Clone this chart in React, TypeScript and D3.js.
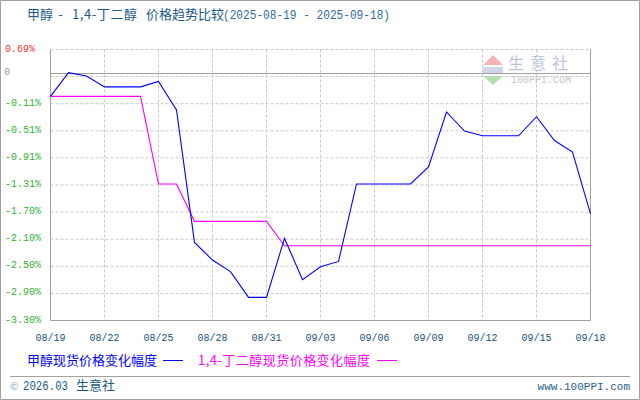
import React from 'react'
import * as d3 from 'd3'

// chart data (percent change vs. 08/19)
const days = d3.timeDay.range(new Date(2025, 7, 19), new Date(2025, 8, 19)).map(d3.timeFormat('%m/%d'))

const methanol = [
  0, 0.35, 0.3, 0.14, 0.14, 0.14, 0.22, -0.2, -2.15, -2.41, -2.58, -2.96, -2.96, -2.09, -2.7, -2.51,
  -2.43, -1.29, -1.29, -1.29, -1.29, -1.04, -0.23, -0.51, -0.58, -0.58, -0.58, -0.3, -0.65, -0.82, -1.73,
]
const bdo = [
  0, 0, 0, 0, 0, 0, -1.29, -1.29, -1.84, -1.84, -1.84, -1.84, -1.84, -2.2, -2.2, -2.2,
  -2.2, -2.2, -2.2, -2.2, -2.2, -2.2, -2.2, -2.2, -2.2, -2.2, -2.2, -2.2, -2.2, -2.2, -2.2,
]

const xTickLabels = ['08/19', '08/22', '08/25', '08/28', '08/31', '09/03', '09/06', '09/09', '09/12', '09/15', '09/18']
const yMax = 0.69
const yMin = -3.3
const yTickLabels = ['0.69%', '', '-0.11%', '-0.51%', '-0.91%', '-1.31%', '-1.70%', '-2.10%', '-2.50%', '-2.90%', '-3.30%']
// the source draws its "0" reference line here, not at the true zero
const zeroLineAt = 0.35

const seriesNames = ['甲醇现货价格变化幅度', '1,4-丁二醇现货价格变化幅度']
const seriesColors = ['#0000ff', '#ff00ff']

const W = 640
const H = 400
const left = 50.5
const right = 590.5
const top = 49.5
const bottom = 320.5

const cjk = '"Noto Sans CJK SC", "Noto Sans", sans-serif'
const mono = '"Liberation Mono", "DejaVu Sans Mono", monospace'

export default function App() {
  const x = d3.scalePoint<string>().domain(days).range([left, right])
  const y = d3.scaleLinear().domain([yMin, yMax]).range([bottom, top])
  const yTicks = yTickLabels.map((_, k) => yMax - (k * (yMax - yMin)) / (yTickLabels.length - 1))

  const line = d3
    .line<number>()
    .x((_, i) => x(days[i]) as number)
    .y((d) => y(d))

  return (
    <svg
      width={W}
      height={H}
      style={{ position: 'absolute', left: 0, top: 0, background: '#fff' }}
      fontFamily={cjk}
    >
      <rect x={0.5} y={0.5} width={W - 1} height={H - 1} fill="#fff" stroke="#a0a0a0" />

      {/* title */}
      <text y={19} fontSize={13} fill="#1d5a8a">
        <tspan x={27}>甲醇</tspan>
        <tspan x={57} fontFamily={mono} fontSize={12}>-</tspan>
        <tspan x={72} textLength={65} lengthAdjust="spacing">1,4-丁二醇</tspan>
        <tspan x={146}>价格趋势比较</tspan>
        <tspan x={223} fontFamily={mono} fontSize={12} fill="#2f6a9c" textLength={167} lengthAdjust="spacingAndGlyphs">
          (2025-08-19 - 2025-09-18)
        </tspan>
      </text>

      {/* watermark */}
      <g opacity={0.6}>
        <polygon points="483,65 493,55 503,65" fill="#f08080" />
        <rect x={483} y={67} width={20} height={6} fill="#8090c0" opacity={0.6} />
        <polygon points="483,76 493,85 503,76" fill="#80d080" />
        <text x={541} y={69} fontSize={16} fill="#8fa0c8" textAnchor="middle" letterSpacing={6}>
          生意社
        </text>
        <text x={541} y={83} fontSize={10} fill="#a0a0a0" textAnchor="middle" fontFamily={mono}>
          100PPI.COM
        </text>
      </g>

      {/* grid */}
      {yTicks.map((t, k) => (
        <line key={'h' + k} x1={left} x2={right} y1={y(t)} y2={y(t)} stroke="#c8c8c8" strokeDasharray="3,2" />
      ))}
      {xTickLabels.map((lab) => (
        <line key={'v' + lab} x1={x(lab)} x2={x(lab)} y1={top} y2={bottom} stroke="#c8c8c8" strokeDasharray="3,2" />
      ))}
      <line x1={left} x2={right} y1={Math.round(y(zeroLineAt)) + 0.5} y2={Math.round(y(zeroLineAt)) + 0.5} stroke="#a0a0a0" />
      <line x1={left} x2={left} y1={top} y2={bottom} stroke="#a0a0a0" />
      <line x1={right} x2={right} y1={top} y2={bottom} stroke="#a0a0a0" />
      <line x1={left} x2={right} y1={bottom} y2={bottom} stroke="#a0a0a0" />

      {/* y labels */}
      {yTicks.map((t, k) =>
        yTickLabels[k] ? (
          <text
            key={'yl' + k}
            x={5}
            y={y(t) + 2}
            fontSize={10}
            fontFamily={mono}
            fill={k === 0 ? '#ff3333' : '#33b033'}
          >
            {yTickLabels[k]}
          </text>
        ) : null
      )}
      <text x={4} y={y(zeroLineAt) + 2} fontSize={10} fontFamily={mono} fill="#999">
        0
      </text>

      {/* x labels */}
      {xTickLabels.map((lab) => (
        <text key={'xl' + lab} x={x(lab)} y={341} fontSize={10} fontFamily={mono} fill="#1a5276" textAnchor="middle">
          {lab}
        </text>
      ))}

      {/* series */}
      <path d={line(bdo) ?? ''} fill="none" stroke={seriesColors[1]} strokeWidth={1.1} />
      <path d={line(methanol) ?? ''} fill="none" stroke={seriesColors[0]} strokeWidth={1.1} />

      {/* legend */}
      <text x={27} y={365} fontSize={13} fill={seriesColors[0]}>
        {seriesNames[0]}
      </text>
      <line x1={163} x2={183} y1={360.5} y2={360.5} stroke={seriesColors[0]} />
      <text x={198} y={365} fontSize={13} fill={seriesColors[1]} textLength={172} lengthAdjust="spacing">
        {seriesNames[1]}
      </text>
      <line x1={377} x2={397} y1={360.5} y2={360.5} stroke={seriesColors[1]} />

      {/* footer */}
      <line x1={10} x2={630} y1={376.5} y2={376.5} stroke="#a0a0a0" />
      <text y={390} fontSize={13} fill="#1e5a80">
        <tspan x={10} fontSize={10} fill="#8aa8c0">©</tspan>
        <tspan x={23} fontFamily={mono} fontSize={12} textLength={45} lengthAdjust="spacingAndGlyphs">2026.03</tspan>
        <tspan x={76}>生意社</tspan>
      </text>
      <text x={630} y={390} fontSize={11} fontFamily={mono} fill="#2a5f8a" textAnchor="end">
        www.100PPI.com
      </text>
    </svg>
  )
}
